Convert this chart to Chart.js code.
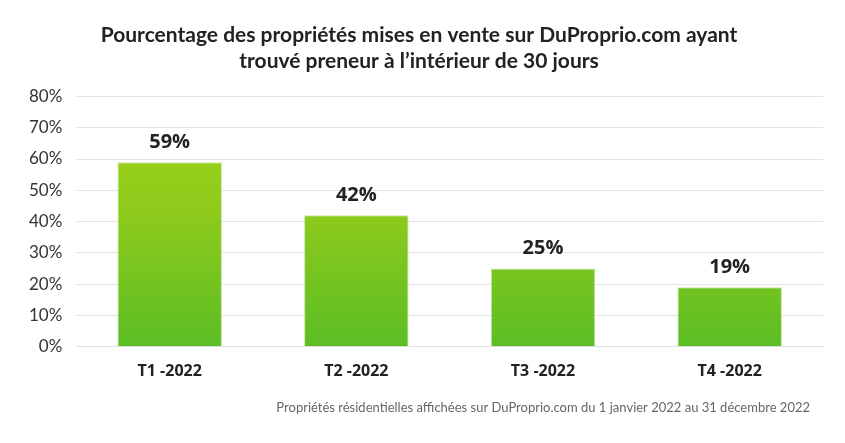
<!DOCTYPE html>
<html>
<head>
<meta charset="utf-8">
<script src="https://cdn.jsdelivr.net/npm/chart.js@4.4.1/dist/chart.umd.min.js"></script>
<style>
  html, body { margin: 0; padding: 0; background: #fff; }
  #wrap { width: 845px; height: 443px; }
</style>
</head>
<body>
<div id="wrap"><canvas id="myChart"></canvas></div>
<script>
const categories = ['T1 -2022', 'T2 -2022', 'T3 -2022', 'T4 -2022'];
const soldPct = [59, 42, 25, 19];
const yTicks = [0, 10, 20, 30, 40, 50, 60, 70, 80];
const footNote = 'Propriétés résidentielles affichées sur DuProprio.com du 1 janvier 2022 au 31 décembre 2022';

// data labels above the bars + footnote
const valueLabels = {
    id: 'valueLabels',
    afterDatasetsDraw(chart) {
        const ctx = chart.ctx;
        const meta = chart.getDatasetMeta(0);
        ctx.save();
        ctx.font = 'bold 20px "Open Sans"';
        ctx.fillStyle = '#222';
        ctx.textAlign = 'center';
        ctx.textBaseline = 'bottom';
        meta.data.forEach((bar, i) => {
            ctx.fillText(soldPct[i] + '%', bar.x, bar.y - 10);
        });
        ctx.font = '13px Lato';
        ctx.fillStyle = '#666';
        ctx.textAlign = 'right';
        ctx.textBaseline = 'middle';
        ctx.fillText(footNote, chart.width - 35, 408);
        ctx.restore();
    }
};

const ctx = document.getElementById('myChart').getContext('2d');
new Chart(ctx, {
    type: 'bar',
    data: {
        labels: categories,
        datasets: [{
            data: soldPct,
            backgroundColor: (c) => {
                const area = c.chart.chartArea;
                if (!area) return '#7cc61f';
                const g = c.chart.ctx.createLinearGradient(0, area.top, 0, area.bottom);
                g.addColorStop(0, '#a2d416');
                g.addColorStop(0.45, '#8fcb1c');
                g.addColorStop(1, '#5cbd24');
                return g;
            },
            borderColor: '#c9e8a8',
            borderWidth: 1,
            borderSkipped: 'bottom',
            barPercentage: 0.7,
            categoryPercentage: 0.8
        }]
    },
    options: {
        responsive: true,
        maintainAspectRatio: false,
        animation: false,
        layout: { padding: { left: 15, right: 22, top: 0, bottom: 55 } },
        scales: {
            x: {
                grid: { display: false },
                border: { display: true, color: '#e0e0e0' },
                ticks: {
                    color: '#222',
                    font: { family: '"Open Sans"', size: 16, weight: 'bold' },
                    padding: 7
                }
            },
            y: {
                min: 0,
                max: 80,
                afterBuildTicks: (axis) => { axis.ticks = yTicks.map(v => ({ value: v })); },
                grid: { color: '#e3e3e3', drawTicks: false },
                border: { display: false },
                ticks: {
                    color: '#333',
                    font: { family: 'Lato', size: 17 },
                    padding: 14,
                    callback: (v) => v + '%'
                }
            }
        },
        plugins: {
            legend: { display: false },
            tooltip: { enabled: false },
            title: {
                display: true,
                text: ['Pourcentage des propriétés mises en vente sur DuProprio.com ayant', 'trouvé preneur à l\u2019intérieur de 30 jours'],
                color: '#222',
                font: { family: 'Lato', size: 21, weight: 'bold', lineHeight: 1.2 },
                padding: { top: 23, bottom: 23 }
            }
        }
    },
    plugins: [valueLabels]
});
</script>
</body>
</html>
